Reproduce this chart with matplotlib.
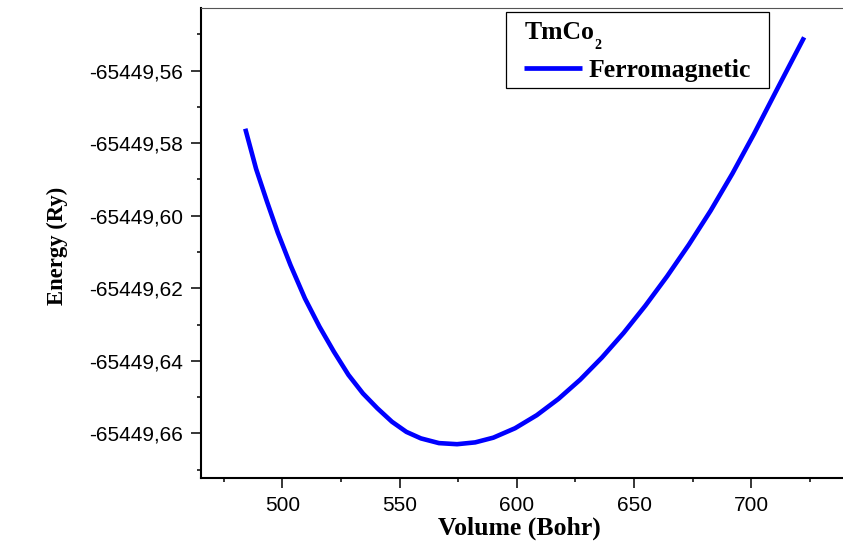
import matplotlib
matplotlib.use("Agg")
import matplotlib.pyplot as plt
from matplotlib.patches import Rectangle
from matplotlib.ticker import MultipleLocator, FuncFormatter

# data
volume = [484.20, 488.83, 493.46, 498.09, 503.48, 509.64, 515.85, 522.00,
          528.21, 534.37, 540.53, 546.73, 552.89, 559.09, 566.78, 574.51,
          582.24, 589.97, 599.24, 608.50, 617.76, 627.02, 636.28, 645.54,
          654.80, 664.06, 673.32, 682.63, 691.89, 701.15, 710.41, 718.14,
          722.50]
energy = [-65449.5760, -65449.5871, -65449.5961, -65449.6047, -65449.6136,
          -65449.6228, -65449.6306, -65449.6375, -65449.6439, -65449.6490,
          -65449.6531, -65449.6568, -65449.6596, -65449.6614, -65449.6627,
          -65449.6630, -65449.6625, -65449.6612, -65449.6586, -65449.6550,
          -65449.6505, -65449.6452, -65449.6391, -65449.6323, -65449.6248,
          -65449.6167, -65449.6080, -65449.5986, -65449.5884, -65449.5774,
          -65449.5658, -65449.5562, -65449.5508]

plt.rcParams['font.family'] = 'Liberation Sans'

W, H = 843, 545
fig = plt.figure(figsize=(W / 100, H / 100), dpi=100)
ax = fig.add_axes([200.7 / W, (H - 477.7) / H, (848 - 200.7) / W, (477.7 - 8) / H])

line, = ax.plot(volume, energy, color='#0000ff', linewidth=3.3, label='Ferromagnetic',
                solid_capstyle='butt', solid_joinstyle='round')

ax.set_xlim(465.2, 741.2)
ax.set_ylim(-65449.67224, -65449.54271)

ax.xaxis.set_major_locator(MultipleLocator(50))
ax.xaxis.set_minor_locator(MultipleLocator(25))
ax.yaxis.set_major_locator(MultipleLocator(0.02))
ax.yaxis.set_minor_locator(MultipleLocator(0.01))
ax.yaxis.set_major_formatter(FuncFormatter(lambda v, p: f"{v:.2f}".replace('.', ',')))

ax.tick_params(which='major', direction='out', length=7.5, width=1.1, labelsize=15, pad=5)
ax.tick_params(which='minor', direction='out', length=3, width=1.1)
ax.tick_params(axis='x', which='major', pad=6)
ax.tick_params(top=False, right=False, which='both')

for s in ['left', 'bottom']:
    ax.spines[s].set_linewidth(1.5)
    ax.spines[s].set_color('black')
ax.spines['top'].set_linewidth(0.8)
ax.spines['top'].set_color('#555555')
ax.spines['right'].set_visible(False)

serif_bold = {'family': 'Liberation Serif', 'weight': 'bold'}
fig.text(519 / W, 1 - 528 / H, 'Volume (Bohr)', ha='center', va='center',
         fontsize=18.5, **serif_bold)
fig.text(57 / W, 1 - 246 / H, 'Energy (Ry)', ha='center', va='center',
         rotation=90, fontsize=16.3, **serif_bold)

# legend: frame, title with lowered subscript, and the line entry
fig.patches.append(Rectangle((505.7 / W, 1 - 88.3 / H), (769.3 - 505.7) / W, (88.3 - 12.3) / H,
                             transform=fig.transFigure, facecolor='white',
                             edgecolor='black', linewidth=0.9, zorder=3))
fig.text(525 / W, 1 - 39.3 / H, 'TmCo', ha='left', va='baseline', fontsize=18.5, zorder=4, **serif_bold)
fig.text(594.5 / W, 1 - 49.3 / H, '2', ha='left', va='baseline', fontsize=10, zorder=4, **serif_bold)

leg = fig.legend(handles=[line], loc='center left', bbox_to_anchor=(524.3 / W, 1 - 70.3 / H),
                 bbox_transform=fig.transFigure,
                 prop={'family': 'Liberation Serif', 'weight': 'bold', 'size': 18.5},
                 frameon=False, handlelength=2.23, handletextpad=0.28,
                 borderpad=0, borderaxespad=0)
leg.set_zorder(6)
leg.get_lines()[0].set_linewidth(3.4)

fig.savefig('out.png', dpi=100)
